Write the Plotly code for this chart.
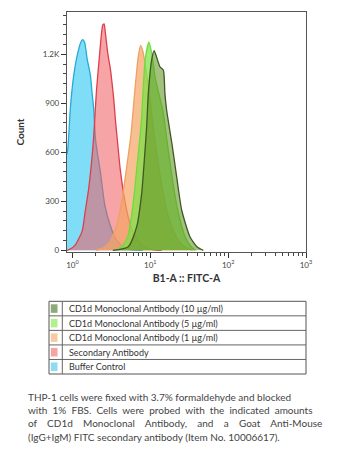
import plotly.graph_objects as go

# ---- histogram data: FITC intensity (B1-A) vs. event count ----
buffer_x = [0.80, 0.86, 0.90, 0.94, 1.04, 1.18, 1.29, 1.36, 1.44, 1.54, 1.70, 1.78,
            1.87, 1.93, 1.97, 2.10, 2.28, 2.60, 3.04, 3.60, 4.50, 5.50, 8.0]
buffer_y = [560, 600, 720, 871, 1073, 1216, 1277, 1290, 1270, 1175, 1073, 971,
            871, 767, 688, 590, 483, 279, 157, 70, 22, 5, 0]

secondary_x = [0.85, 0.95, 1.09, 1.33, 1.46, 1.62, 1.78, 1.87, 2.03, 2.21, 2.45, 2.55,
               2.65, 2.80, 2.92, 3.05, 3.20, 3.40, 3.56, 3.80, 4.10, 4.50, 5.00, 5.50,
               6.20, 7.40, 9.0, 11.0, 14.0]
secondary_y = [0, 10, 34, 116, 239, 381, 565, 688, 971, 1175, 1379, 1386,
               1330, 1230, 1170, 1120, 1040, 920, 800, 660, 500, 360, 240, 160,
               95, 45, 15, 3, 0]

ab1_x = [2.0, 2.5, 3.0, 3.7, 4.3, 4.98, 5.70, 6.0, 6.31, 6.61, 6.95, 7.5, 8.06,
         8.5, 9.5, 10.5, 12.0, 14.0, 16.0, 19.0, 23.0, 28.0, 35.0]
ab1_y = [0, 15, 50, 150, 300, 512, 726, 849, 971, 1073, 1175, 1255, 1215,
         1150, 1000, 820, 600, 400, 260, 140, 60, 20, 0]

ab5_x = [3.5, 4.3, 5.13, 5.88, 6.55, 7.70, 8.06, 8.63, 9.6, 10.5, 11.5, 13.0,
         14.5, 16.5, 19.0, 22.5, 28.0, 33.0, 38.0]
ab5_y = [0, 20, 83, 247, 451, 800, 971, 1175, 1275, 1200, 1063, 950,
         859, 660, 451, 247, 83, 25, 0]

ab10_x = [3.3, 5.22, 6.69, 7.75, 8.38, 8.98, 9.43, 10.4, 11.2, 13.3, 14.7, 15.4,
          16.2, 19.0, 21.8, 25.3, 32.3, 40.0, 48.0]
ab10_y = [0, 22, 145, 349, 553, 757, 961, 1165, 1222, 1124, 1104, 961,
          859, 650, 451, 247, 83, 20, 0]

series = [
    # name, x, y, line colour, fill colour, legend swatch
    ("Buffer Control", buffer_x, buffer_y, "#27a9d8", "rgba(85,210,245,0.75)", "#8edbf4"),
    ("Secondary Antibody", secondary_x, secondary_y, "#dc3f4c", "rgba(240,90,95,0.55)", "#f5a3a3"),
    ("CD1d Monoclonal Antibody (1 µg/ml)", ab1_x, ab1_y, "#f0a060", "rgba(245,165,100,0.70)", "#f8c9a2"),
    ("CD1d Monoclonal Antibody (5 µg/ml)", ab5_x, ab5_y, "#6fdc3c", "rgba(120,225,70,0.70)", "#b2f08e"),
    ("CD1d Monoclonal Antibody (10 µg/ml)", ab10_x, ab10_y, "#3f5a22", "rgba(100,150,40,0.60)", "#8cab78"),
]

y_tickvals = [0, 300, 600, 900, 1200]
y_ticktext = ["0", "300", "600", "900", "1.2K"]
x_tickvals = [1, 10, 100, 1000]
x_ticktext = ["10<sup>0</sup>", "10<sup>1</sup>", "10<sup>2</sup>", "10<sup>3</sup>"]
x_minor = [m * d for d in (1, 10, 100) for m in range(2, 10)]

caption_lines = [
    "THP-1 cells were fixed with 3.7% formaldehyde and blocked",
    "with 1% FBS. Cells were probed with the indicated amounts",
    "of CD1d Monoclonal Antibody, and a Goat Anti-Mouse",
    "(IgG+IgM) FITC secondary antibody (Item No. 10006617).",
]
# extra non-breaking spaces per word gap, giving a justified block
caption_pad = [0, 1, 3, 0]

# ---- page geometry (pixels) ----
W, H = 348, 464
L, R, T, B = 67, 306, 12, 252
FONT = "Lato"


def px(x):
    return (x - L) / (R - L)


def py(y):
    return (B - y) / (B - T)


fig = go.Figure()
for name, xs, ys, lc, fc, _ in series:
    fig.add_trace(go.Scatter(
        x=xs, y=ys, mode="lines", name=name, fill="tozeroy",
        line=dict(color=lc, width=1.3, shape="spline", smoothing=0.6),
        fillcolor=fc, showlegend=False, hoverinfo="skip",
    ))

axis_common = dict(
    showline=True, linecolor="#555555", linewidth=1.3, mirror=True,
    ticks="outside", tickcolor="#333333", tickwidth=1.3, ticklen=5,
    showgrid=False, zeroline=False,
    tickfont=dict(family=FONT, size=8, color="#444444"),
)

fig.update_xaxes(
    type="log", range=[-0.07, 3.0],
    tickmode="array", tickvals=x_tickvals, ticktext=x_ticktext,
    minor=dict(tickmode="array", tickvals=x_minor, ticks="outside", ticklen=3,
               tickcolor="#444444", tickwidth=1),
    title=dict(text="<b>B1-A :: FITC-A</b>", standoff=5,
               font=dict(family=FONT, size=10.5, color="#333333")),
    **axis_common,
)
fig.update_yaxes(
    range=[-10, 1459],
    tickmode="array", tickvals=y_tickvals, ticktext=y_ticktext,
    minor=dict(dtick=60, tick0=0, ticks="outside", ticklen=3,
               tickcolor="#444444", tickwidth=1),
    title=dict(text="<b>Count</b>", standoff=16,
               font=dict(family=FONT, size=10, color="#333333")),
    **axis_common,
)

# ---- legend box with ruled rows ----
shapes = []
annotations = []
leg_l, leg_r, leg_t, leg_b = 49, 306, 301.3, 374
row_h = (leg_b - leg_t) / 5
shapes.append(dict(type="rect", xref="paper", yref="paper",
                   x0=px(leg_l), x1=px(leg_r), y0=py(leg_b), y1=py(leg_t),
                   line=dict(color="#555555", width=1), fillcolor="rgba(0,0,0,0)"))
shapes.append(dict(type="line", xref="paper", yref="paper",
                   x0=px(62.3), x1=px(62.3), y0=py(leg_b), y1=py(leg_t),
                   line=dict(color="#666666", width=1)))
for i in range(1, 5):
    yy = leg_t + i * row_h
    shapes.append(dict(type="line", xref="paper", yref="paper",
                       x0=px(leg_l), x1=px(leg_r), y0=py(yy), y1=py(yy),
                       line=dict(color="#666666", width=1)))
for i, (name, _, _, _, _, swatch) in enumerate(reversed(series)):
    top = leg_t + i * row_h
    shapes.append(dict(type="rect", xref="paper", yref="paper",
                       x0=px(50.8), x1=px(57.5), y0=py(top + row_h - 3), y1=py(top + 3),
                       line=dict(width=0), fillcolor=swatch))
    annotations.append(dict(text=name, x=px(66.5), y=py(top + row_h / 2),
                            xref="paper", yref="paper", xanchor="left", yanchor="middle",
                            showarrow=False, font=dict(family=FONT, size=9, color="#333333")))

# ---- caption below the chart ----
cap_y = [396.7, 410.0, 423.3, 436.7]
cap_font = dict(family=FONT, size=10, color="#444444")
for line, pad, yy in zip(caption_lines, caption_pad, cap_y):
    text = (" " + "\u00a0" * pad).join(line.split(" "))
    annotations.append(dict(text=text, x=px(26), y=py(yy), xref="paper", yref="paper",
                            xanchor="left", yanchor="middle", showarrow=False,
                            font=cap_font))

fig.update_layout(
    width=W, height=H,
    margin=dict(l=L, r=W - R, t=T, b=H - B),
    paper_bgcolor="white", plot_bgcolor="white",
    shapes=shapes, annotations=annotations,
    font=dict(family=FONT),
)

fig.write_html("out.html")
